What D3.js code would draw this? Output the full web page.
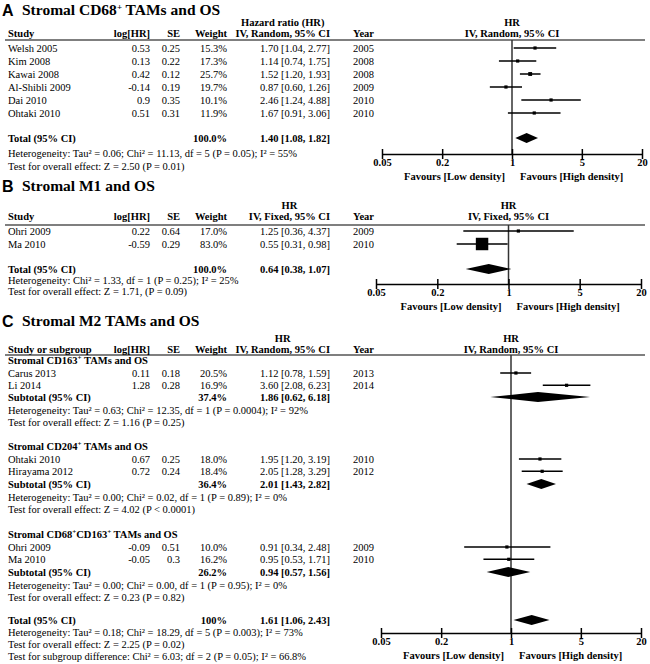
<!DOCTYPE html>
<html><head><meta charset="utf-8">
<script src="https://cdn.jsdelivr.net/npm/d3@7"></script>
<style>
body{margin:0;background:#fff}
text{font-family:"Liberation Serif","Times New Roman",serif;font-size:10.5px;fill:#000}
</style>
</head><body><svg id="c" width="650" height="664"></svg>
<script>
// ---------- DATA ----------
// Panel A: Stromal CD68+ TAMs and OS (random effects)
const studiesA = ["Welsh 2005","Kim 2008","Kawai 2008","Al-Shibli 2009","Dai 2010","Ohtaki 2010"];
const logHrA = [0.53,0.13,0.42,-0.14,0.9,0.51];
const seA = [0.25,0.22,0.12,0.19,0.35,0.31];
const weightA = [15.3,17.3,25.7,19.7,10.1,11.9];
const hrA = [1.70,1.14,1.52,0.87,2.46,1.67];
const lowA = [1.04,0.74,1.20,0.60,1.24,0.91];
const highA = [2.77,1.75,1.93,1.26,4.88,3.06];
const yearA = [2005,2008,2008,2009,2010,2010];
const totalA = [1.40,1.08,1.82];
const totalWeightA = "100.0%";
const statsA = ["Heterogeneity: Tau² = 0.06; Chi² = 11.13, df = 5 (P = 0.05); I² = 55%",
                "Test for overall effect: Z = 2.50 (P = 0.01)"];

// Panel B: Stromal M1 and OS (fixed effects)
const studiesB = ["Ohri 2009","Ma 2010"];
const logHrB = [0.22,-0.59];
const seB = [0.64,0.29];
const weightB = [17.0,83.0];
const hrB = [1.25,0.55];
const lowB = [0.36,0.31];
const highB = [4.37,0.98];
const yearB = [2009,2010];
const totalB = [0.64,0.38,1.07];
const totalWeightB = "100.0%";
const statsB = ["Heterogeneity: Chi² = 1.33, df = 1 (P = 0.25); I² = 25%",
                "Test for overall effect: Z = 1.71, (P = 0.09)"];

// Panel C: Stromal M2 TAMs and OS (random effects, subgroups)
const studiesC1 = ["Carus 2013","Li 2014"];
const logHrC1 = [0.11,1.28];
const seC1 = [0.18,0.28];
const weightC1 = [20.5,16.9];
const hrC1 = [1.12,3.60];
const lowC1 = [0.78,2.08];
const highC1 = [1.59,6.23];
const yearC1 = [2013,2014];
const subC1 = [1.86,0.62,6.18];
const subWeightC1 = "37.4%";
const statsC1 = ["Heterogeneity: Tau² = 0.63; Chi² = 12.35, df = 1 (P = 0.0004); I² = 92%",
                 "Test for overall effect: Z = 1.16 (P = 0.25)"];

const studiesC2 = ["Ohtaki 2010","Hirayama 2012"];
const logHrC2 = [0.67,0.72];
const seC2 = [0.25,0.24];
const weightC2 = [18.0,18.4];
const hrC2 = [1.95,2.05];
const lowC2 = [1.20,1.28];
const highC2 = [3.19,3.29];
const yearC2 = [2010,2012];
const subC2 = [2.01,1.43,2.82];
const subWeightC2 = "36.4%";
const statsC2 = ["Heterogeneity: Tau² = 0.00; Chi² = 0.02, df = 1 (P = 0.89); I² = 0%",
                 "Test for overall effect: Z = 4.02 (P < 0.0001)"];

const studiesC3 = ["Ohri 2009","Ma 2010"];
const logHrC3 = [-0.09,-0.05];
const seC3 = [0.51,0.3];
const weightC3 = [10.0,16.2];
const hrC3 = [0.91,0.95];
const lowC3 = [0.34,0.53];
const highC3 = [2.48,1.71];
const yearC3 = [2009,2010];
const subC3 = [0.94,0.57,1.56];
const subWeightC3 = "26.2%";
const statsC3 = ["Heterogeneity: Tau² = 0.00; Chi² = 0.00, df = 1 (P = 0.95); I² = 0%",
                 "Test for overall effect: Z = 0.23 (P = 0.82)"];

const totalC = [1.61,1.06,2.43];
const totalWeightC = "100%";
const statsC = ["Heterogeneity: Tau² = 0.18; Chi² = 18.29, df = 5 (P = 0.003); I² = 73%",
                "Test for overall effect: Z = 2.25 (P = 0.02)",
                "Test for subgroup difference: Chi² = 6.03; df = 2 (P = 0.05); I² = 66.8%"];

const axisTicks = [0.05,0.2,1,5,20];
const favourLabels = ["Favours [Low density]","Favours [High density]"];

// ---------- DRAWING ----------
const svg = d3.select("#c");
const f2 = d3.format(".2f"), f1 = d3.format(".1f");
const ciText = (h,l,u) => `${f2(h)} [${f2(l)}, ${f2(u)}]`;
const COL = {study:8, log:150, se:180, wt:227, hr:330, year:353};

function txt(x, y, s, o = {}) {
  const t = svg.append("text").attr("x", x).attr("y", y).attr("dy", "0.35em").text(s);
  if (o.anchor) t.attr("text-anchor", o.anchor);
  if (o.bold) t.attr("font-weight", "bold");
  return t;
}
function rich(x, y, parts, o = {}) {
  const t = svg.append("text").attr("x", x).attr("y", y).attr("dy", "0.35em");
  if (o.bold) t.attr("font-weight", "bold");
  if (o.size) t.style("font-size", o.size + "px");
  let up = false;
  parts.forEach(p => {
    const sup = p.startsWith("^");
    const s = sup ? p.slice(1) : p;
    const ts = t.append("tspan").text(s);
    if (sup && !up) { ts.attr("dy", -(o.supShift||4)).style("font-size", (o.supSize||7) + "px"); up = true; }
    else if (sup) { ts.style("font-size", (o.supSize||7) + "px"); }
    else if (up) { ts.attr("dy", (o.supShift||4)); up = false; }
  });
  return t;
}
function title(y, letter, parts) {
  svg.append("text").attr("x", 2).attr("y", y).attr("dy", "0.35em")
    .style("font-family", "'Liberation Sans', Arial, sans-serif").style("font-size", "16px")
    .attr("font-weight", "bold").text(letter);
  rich(22, y, parts, {bold: true, size: 15.5, supSize: 9, supShift: 5});
}

function makePanel(p) {
  const x = d3.scaleLog().domain([0.05, 20]).range(p.xr);
  const wScale = d3.scaleLinear().domain([0, 100]).range([0, 15]);
  // headers
  const iv = txt(COL.hr, p.headY, p.ivLabel, {anchor: "end", bold: true});
  const ivW = iv.node().getComputedTextLength();
  txt(COL.hr - ivW / 2, p.hrY, p.hrLabel, {anchor: "middle", bold: true});
  txt(COL.study, p.headY, p.studyLabel, {bold: true});
  txt(COL.log, p.headY, "log[HR]", {anchor: "end", bold: true});
  txt(COL.se, p.headY, "SE", {anchor: "end", bold: true});
  txt(COL.wt, p.headY, "Weight", {anchor: "end", bold: true});
  txt(COL.year, p.headY, "Year", {bold: true});
  txt(x(1), p.hrY, "HR", {anchor: "middle", bold: true});
  txt(x(1), p.headY, p.ivLabel, {anchor: "middle", bold: true});
  svg.append("line").attr("x1", 5).attr("x2", 645).attr("y1", p.lineY).attr("y2", p.lineY)
    .attr("stroke", "#000").attr("stroke-width", 1.2);
  svg.append("line").attr("x1", x(1)).attr("x2", x(1)).attr("y1", p.lineY).attr("y2", p.axisY)
    .attr("stroke", "#333").attr("stroke-width", 1.5);

  // axis
  const ax = svg.append("g").attr("transform", `translate(0,${p.axisY})`)
    .call(d3.axisBottom(x).tickValues(axisTicks).tickFormat(d => String(d)).tickSizeOuter(0).tickSizeInner(5));
  ax.select(".domain").attr("stroke", "#000").attr("stroke-width", 1.5);
  ax.selectAll(".tick line").attr("y1", -5).attr("y2", 5).attr("stroke", "#000").attr("stroke-width", 1.5);
  ax.selectAll(".tick text").attr("y", 5).attr("font-weight", "bold");
  txt(x(1) - 7, p.axisY + 22, favourLabels[0], {anchor: "end", bold: true});
  txt(x(1) + 8, p.axisY + 22, favourLabels[1], {bold: true});

  // groups
  p.groups.forEach(g => {
    if (g.head) rich(COL.study, g.headY, g.head, {bold: true, supSize: 7, supShift: 4});
    g.studies.forEach((s, i) => {
      const y = g.rowY(i);
      txt(COL.study, y, s);
      txt(COL.log, y, String(g.log[i]), {anchor: "end"});
      txt(COL.se, y, String(g.se[i]), {anchor: "end"});
      txt(COL.wt, y, f1(g.w[i]) + "%", {anchor: "end"});
      txt(COL.hr, y, ciText(g.hr[i], g.lo[i], g.hi[i]), {anchor: "end"});
      txt(COL.year, y, String(g.year[i]));
      svg.append("line").attr("x1", x(g.lo[i])).attr("x2", x(g.hi[i])).attr("y1", y).attr("y2", y)
        .attr("stroke", "#000").attr("stroke-width", 1.5);
      const side = Math.max(3.2, wScale(g.w[i]));
      svg.append("rect").attr("x", x(g.hr[i]) - side / 2).attr("y", y - side / 2)
        .attr("width", side).attr("height", side).attr("fill", "#000");
    });
    if (g.sum) {
      const y = g.sumY;
      txt(COL.study, y, g.sumLabel, {bold: true});
      txt(COL.wt, y, g.sumW, {anchor: "end", bold: true});
      txt(COL.hr, y, ciText(g.sum[0], g.sum[1], g.sum[2]), {anchor: "end", bold: true});
      const h = 5;
      svg.append("path").attr("d",
        `M${x(g.sum[1])},${y}L${x(g.sum[0])},${y - h}L${x(g.sum[2])},${y}L${x(g.sum[0])},${y + h}Z`)
        .attr("fill", "#000");
    }
    (g.stats || []).forEach((s, i) => txt(COL.study, g.statY(i), s));
  });
}

// Panel A
title(10, "A", ["Stromal CD68", "^+", " TAMs and OS"]);
makePanel({
  xr: [382, 642], hrY: 22, headY: 33, lineY: 40, axisY: 154,
  hrLabel: "Hazard ratio (HR)", ivLabel: "IV, Random, 95% CI", studyLabel: "Study",
  groups: [{
    studies: studiesA, log: logHrA, se: seA, w: weightA, hr: hrA, lo: lowA, hi: highA, year: yearA,
    rowY: i => 48 + i * 13,
    sum: totalA, sumW: totalWeightA, sumLabel: "Total (95% CI)", sumY: 138,
    stats: statsA, statY: i => 153 + i * 13
  }]
});

// Panel B
title(186, "B", ["Stromal M1 and OS"]);
makePanel({
  xr: [376, 641], hrY: 205, headY: 216, lineY: 225, axisY: 284,
  hrLabel: "HR", ivLabel: "IV, Fixed, 95% CI", studyLabel: "Study",
  groups: [{
    studies: studiesB, log: logHrB, se: seB, w: weightB, hr: hrB, lo: lowB, hi: highB, year: yearB,
    rowY: i => 231 + i * 13,
    sum: totalB, sumW: totalWeightB, sumLabel: "Total (95% CI)", sumY: 269,
    stats: statsB, statY: i => 280 + i * 11.5
  }]
});

// Panel C
title(321, "C", ["Stromal M2 TAMs and OS"]);
makePanel({
  xr: [381, 641], hrY: 338, headY: 349, lineY: 355, axisY: 633,
  hrLabel: "HR", ivLabel: "IV, Random, 95% CI", studyLabel: "Study or subgroup",
  groups: [
    { head: ["Stromal CD163", "^+", " TAMs and OS"], headY: 360,
      studies: studiesC1, log: logHrC1, se: seC1, w: weightC1, hr: hrC1, lo: lowC1, hi: highC1, year: yearC1,
      rowY: i => 373 + i * 12.3, sum: subC1, sumW: subWeightC1, sumLabel: "Subtotal (95% CI)", sumY: 397,
      stats: statsC1, statY: i => 410 + i * 12.3 },
    { head: ["Stromal CD204", "^+", " TAMs and OS"], headY: 446,
      studies: studiesC2, log: logHrC2, se: seC2, w: weightC2, hr: hrC2, lo: lowC2, hi: highC2, year: yearC2,
      rowY: i => 459 + i * 12.3, sum: subC2, sumW: subWeightC2, sumLabel: "Subtotal (95% CI)", sumY: 484,
      stats: statsC2, statY: i => 497 + i * 12.3 },
    { head: ["Stromal CD68", "^+", "CD163", "^+", " TAMs and OS"], headY: 534,
      studies: studiesC3, log: logHrC3, se: seC3, w: weightC3, hr: hrC3, lo: lowC3, hi: highC3, year: yearC3,
      rowY: i => 547 + i * 12.3, sum: subC3, sumW: subWeightC3, sumLabel: "Subtotal (95% CI)", sumY: 572,
      stats: statsC3, statY: i => 585 + i * 12.3 },
    { studies: [], sum: totalC, sumW: totalWeightC, sumLabel: "Total (95% CI)", sumY: 620,
      stats: statsC, statY: i => 632 + i * 12 }
  ]
});
</script>
</body></html>
